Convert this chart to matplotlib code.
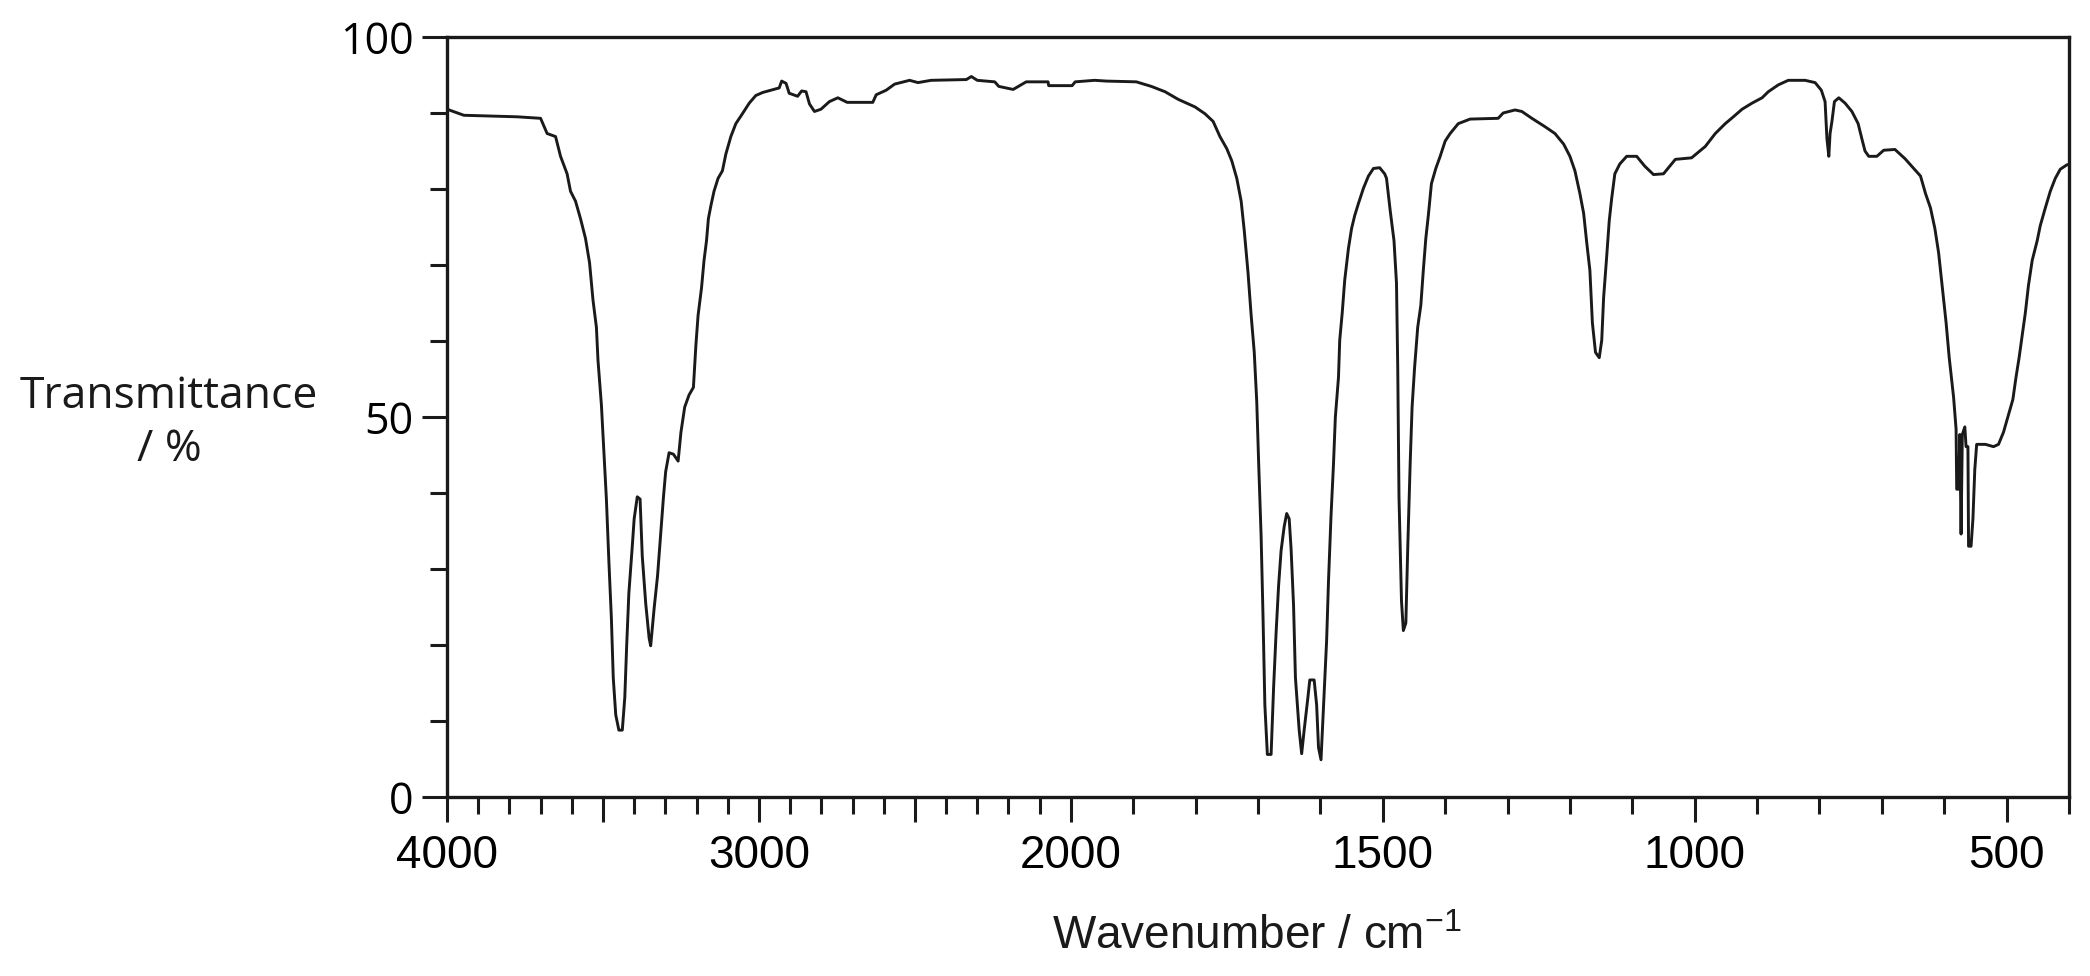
import numpy as np
import matplotlib
matplotlib.use('Agg')
import matplotlib.pyplot as plt
from matplotlib import font_manager

# IR spectrum (wavenumber in cm-1, transmittance in %)
wavenumber = [
    4000, 3946, 3775, 3700, 3679, 3652, 3636, 3615, 3604, 3588, 3572, 3556,
    3543, 3532, 3521, 3516, 3505, 3497, 3489, 3481, 3473, 3467, 3459, 3449,
    3438, 3430, 3424, 3417, 3406, 3400, 3390, 3381, 3374, 3363, 3352, 3347,
    3336, 3325, 3315, 3306, 3299, 3288, 3274, 3259, 3250, 3238, 3224, 3210,
    3202, 3195, 3184, 3176, 3168, 3162, 3154, 3144, 3131, 3117, 3106, 3090,
    3074, 3053, 3031, 3010, 2988, 2962, 2935, 2927, 2913, 2903, 2876, 2863,
    2849, 2838, 2822, 2801, 2774, 2747, 2717, 2635, 2624, 2592, 2565, 2517,
    2490, 2448, 2335, 2319, 2300, 2244, 2231, 2185, 2143, 2073, 2071, 1998,
    1993, 1962, 1943, 1895, 1871, 1849, 1828, 1801, 1785, 1772, 1761, 1750,
    1742, 1734, 1727, 1722, 1716, 1711, 1706, 1702, 1699, 1695, 1692, 1689,
    1685, 1679, 1675, 1671, 1667, 1663, 1658, 1654, 1650, 1647, 1643, 1640,
    1634, 1630, 1626, 1620, 1617, 1610, 1606, 1603, 1599, 1595, 1590, 1587,
    1583, 1579, 1576, 1571, 1569, 1565, 1561, 1555, 1550, 1545, 1539, 1531,
    1523, 1515, 1505, 1497, 1494, 1488, 1482, 1478, 1476, 1474, 1470, 1467,
    1463, 1460, 1456, 1453, 1449, 1444, 1439, 1435, 1431, 1427, 1422, 1415,
    1408, 1400, 1392, 1379, 1360, 1315, 1307, 1288, 1277, 1261, 1240, 1224,
    1210, 1200, 1192, 1184, 1178, 1173, 1168, 1164, 1159, 1153, 1149, 1146,
    1141, 1137, 1133, 1128, 1120, 1109, 1093, 1080, 1066, 1050, 1031, 1005,
    983, 967, 951, 938, 924, 908, 892, 882, 866, 850, 823, 807, 797, 791,
    788, 785, 783, 780, 776, 769, 759, 748, 738, 732, 727, 721, 708, 697,
    679, 663, 649, 638, 630, 622, 615, 609, 603, 597, 592, 585, 581, 580,
    577, 575, 573, 571, 567, 565, 562, 561, 557, 554, 551, 548, 534, 521,
    513, 505, 497, 490, 485, 480, 474, 470, 465, 459, 451, 446, 438, 430,
    422, 414, 403, 398,
]
transmittance = [
    90.5, 89.7, 89.5, 89.3, 87.3, 86.9, 84.3, 82.0, 79.7, 78.4, 76.1, 73.5,
    70.3, 65.4, 61.8, 57.5, 51.6, 45.4, 39.2, 31.0, 23.5, 15.7, 10.8, 8.8,
    8.8, 13.1, 19.9, 26.8, 33.0, 36.6, 39.5, 39.2, 31.7, 25.5, 20.9, 19.9,
    24.8, 29.1, 34.6, 39.5, 42.8, 45.3, 45.1, 44.2, 48.0, 51.3, 52.9, 53.9,
    59.5, 63.4, 67.0, 70.6, 73.2, 76.1, 77.8, 79.7, 81.4, 82.4, 84.6, 86.9,
    88.6, 89.9, 91.3, 92.3, 92.7, 93.0, 93.3, 94.2, 93.9, 92.6, 92.2, 92.9,
    92.8, 91.2, 90.2, 90.5, 91.5, 92.0, 91.4, 91.4, 92.4, 93.0, 93.8, 94.3,
    94.0, 94.3, 94.4, 94.8, 94.3, 94.1, 93.5, 93.1, 94.1, 94.1, 93.6, 93.6,
    94.1, 94.3, 94.2, 94.1, 93.5, 92.8, 91.8, 90.8, 89.9, 88.9, 86.9, 85.3,
    83.7, 81.4, 78.4, 74.5, 69.0, 63.4, 58.5, 52.0, 44.1, 34.3, 23.9, 12.1,
    5.6, 5.6, 14.4, 21.6, 27.8, 32.4, 35.6, 37.3, 36.6, 32.7, 25.2, 15.7,
    8.8, 5.7, 8.8, 13.1, 15.4, 15.4, 12.1, 6.5, 4.9, 11.8, 20.6, 28.4,
    36.9, 43.8, 50.0, 55.2, 60.1, 63.7, 68.0, 72.2, 74.8, 76.5, 78.1, 80.1,
    81.7, 82.7, 82.8, 82.0, 81.4, 77.1, 73.2, 67.6, 56.5, 39.5, 25.8, 21.9,
    22.9, 32.7, 44.1, 51.3, 56.5, 61.8, 64.7, 69.3, 73.5, 76.5, 80.7, 82.7,
    84.3, 86.3, 87.3, 88.6, 89.2, 89.3, 90.0, 90.4, 90.2, 89.3, 88.2, 87.3,
    85.9, 84.3, 82.4, 79.4, 76.8, 72.9, 69.3, 62.4, 58.5, 57.8, 60.1, 65.7,
    71.2, 75.8, 78.8, 82.0, 83.3, 84.3, 84.3, 83.0, 81.9, 82.0, 83.9, 84.1,
    85.6, 87.3, 88.6, 89.5, 90.5, 91.3, 92.0, 92.8, 93.7, 94.3, 94.3, 94.0, 93.0, 91.5,
    86.6, 84.3, 87.3, 88.9, 91.5, 92.0, 91.3, 90.2, 88.6, 86.6, 85.0, 84.3, 84.3, 85.1,
    85.2, 84.0, 82.7, 81.7, 79.4, 77.5, 74.8, 71.6, 67.0, 62.4, 57.8, 52.6, 48.4, 40.5,
    40.5, 47.7, 34.6, 47.7, 48.7, 46.1, 46.1, 33.0, 33.0, 36.6, 43.1, 46.4, 46.4, 46.1,
    46.4, 48.0, 50.3, 52.3, 55.2, 57.8, 61.4, 63.7, 67.3, 70.6, 73.2, 75.2, 77.5, 79.7,
    81.4, 82.6, 83.2, 83.2,
]

x_major = [4000, 3000, 2000, 1500, 1000, 500]
x_unlabelled = [3500, 2500]
y_major = [0, 50, 100]

installed = {f.name for f in font_manager.fontManager.ttflist}
narrow = 'Liberation Sans Narrow' if 'Liberation Sans Narrow' in installed else 'Liberation Sans'
regular = 'Open Sans'

plt.rcParams['font.family'] = [regular, 'DejaVu Sans']
plt.rcParams['mathtext.fontset'] = 'custom'
plt.rcParams['mathtext.rm'] = narrow


def fwd(x):
    x = np.asarray(x, dtype=float)
    return np.where(x >= 2000, x, 2 * x - 2000)


def inv(y):
    y = np.asarray(y, dtype=float)
    return np.where(y >= 2000, y, (y + 2000) / 2)


fig = plt.figure(figsize=(20.9, 9.76), dpi=100)
ax = fig.add_axes([447 / 2090, 1 - 797 / 976, 1622 / 2090, 760 / 976])

ax.plot(wavenumber, transmittance, color='#1a1a1a', lw=2.1)

ax.set_xscale('function', functions=(fwd, inv))
ax.set_xlim(4000, 400)
ax.set_ylim(0, 100)

majors = sorted(x_major + x_unlabelled, reverse=True)
ax.set_xticks(majors)
ax.set_xticklabels([str(v) if v in x_major else '' for v in majors],
                   fontfamily=narrow, fontsize=33)
minors = [v for v in range(3900, 399, -100) if v not in majors]
ax.set_xticks(minors, minor=True)

ax.set_yticks(y_major)
ax.set_yticklabels([str(v) for v in y_major], fontsize=31)
ax.set_yticks(range(0, 101, 10), minor=True)

ax.tick_params(which='major', length=18, width=2.2, color='#1a1a1a')
ax.tick_params(which='minor', length=12, width=2.2, color='#1a1a1a')
ax.tick_params(axis='x', pad=9)
ax.tick_params(axis='y', pad=6)

for s in ax.spines.values():
    s.set_linewidth(2.4)
    s.set_color('#1a1a1a')

fig.text(169 / 2090, 1 - 423 / 976, 'Transmittance\n/ %', ha='center',
         va='center', fontsize=32, color='#1a1a1a', linespacing=1.25)
fig.text(1257 / 2090, 1 - 937 / 976, r'Wavenumber / cm$^{-1}$',
         ha='center', va='center', fontsize=33, fontfamily=narrow,
         color='#1a1a1a')

fig.savefig('out.png', dpi=100)
